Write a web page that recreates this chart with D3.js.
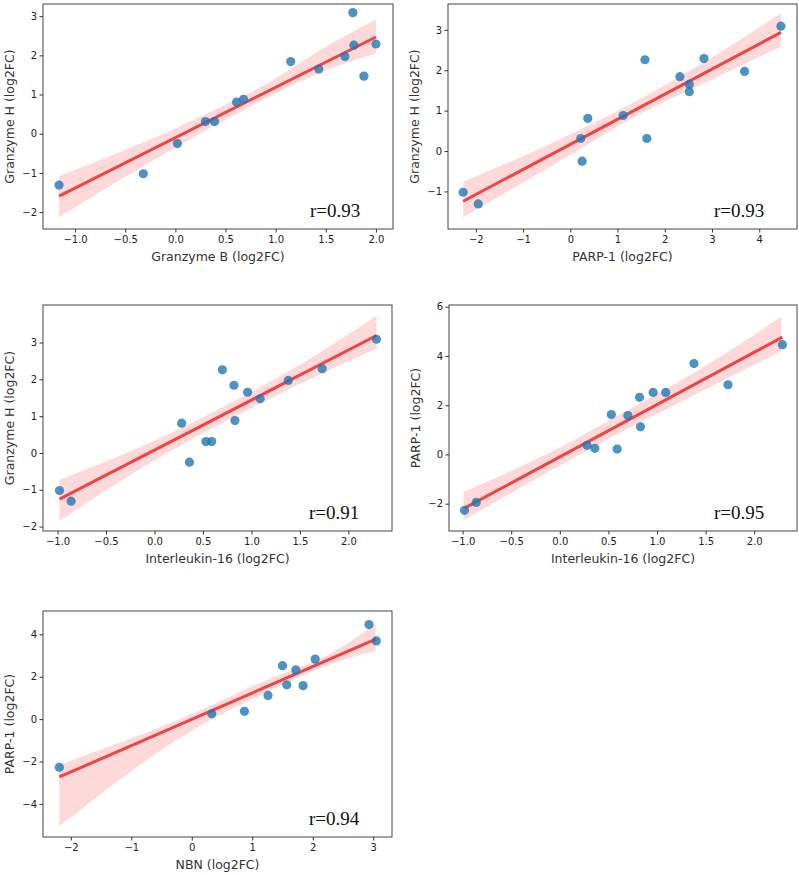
<!DOCTYPE html>
<html>
<head>
<meta charset="utf-8">
<script src="https://cdn.jsdelivr.net/npm/d3@7"></script>
<style>
  html, body { margin: 0; padding: 0; background: #fff; }
  svg { display: block; }
  .tick text { font-family: "DejaVu Sans", sans-serif; font-size: 10px; fill: #222; }
  .axlabel { font-family: "DejaVu Sans", sans-serif; font-size: 12.5px; fill: #333; }
  .rtext { font-family: "Liberation Serif", "Times New Roman", serif; font-size: 19px; fill: #111; }
</style>
</head>
<body>
<svg id="chart" width="799" height="875"></svg>
<script>
// ---- Data (log2FC per sample) ----
const granzymeB     = [-1.16, -0.32, 0.02, 0.30, 0.39, 0.61, 0.68, 1.15, 1.43, 1.69, 1.77, 1.78, 1.88, 2.00];
const granzymeH     = [-1.31, -1.02, -0.25, 0.31, 0.31, 0.81, 0.88, 1.84, 1.65, 1.97, 3.09, 2.26, 1.47, 2.29];
const parp1         = [-1.95, -2.27, 0.25, 0.22, 1.62, 0.37, 1.12, 2.32, 2.52, 3.69, 4.46, 1.58, 2.52, 2.83];
const interleukin16 = [-0.86, -0.98, 0.36, 0.59, 0.53, 0.28, 0.83, 0.82, 0.96, 1.38, 2.29, 0.70, 1.09, 1.73];
const nbn           = [null, -2.19, 0.33, null, 1.57, 0.87, 1.26, 1.72, 1.50, 3.05, 2.93, 1.84, null, 2.04];

// 95% confidence band edges [x, lower, upper]
const bandGzbGzh  = [[-1.16,-2.13,-1.08],[-0.3,-0.80,-0.20],[0.4,0.22,0.62],[0.9,0.90,1.26],[1.5,1.62,2.22],[2.0,2.05,2.92]];
const bandParpGzh = [[-2.27,-1.64,-0.76],[-0.5,-0.44,0.14],[1.4,0.87,1.24],[3.3,1.94,2.54],[4.46,2.59,3.41]];
const bandIlGzh   = [[-0.98,-1.84,-0.73],[0.0,-0.20,0.33],[0.7,0.82,1.24],[1.5,1.88,2.40],[2.29,2.84,3.73]];
const bandIlParp  = [[-0.99,-2.67,-1.52],[0.0,-0.45,0.28],[0.7,1.05,1.80],[1.5,2.65,3.60],[2.28,4.20,5.60]];
const bandNbnParp = [[-2.19,-5.05,-2.15],[0.3,-0.05,0.62],[1.0,0.95,1.55],[1.6,1.75,2.25],[2.3,2.60,3.10],[3.04,3.24,4.50]];

const rValues = ["r=0.93", "r=0.93", "r=0.91", "r=0.95", "r=0.94"];
const xLabels = ["Granzyme B (log2FC)", "PARP-1 (log2FC)", "Interleukin-16 (log2FC)", "Interleukin-16 (log2FC)", "NBN (log2FC)"];
const yLabels = ["Granzyme H (log2FC)", "Granzyme H (log2FC)", "Granzyme H (log2FC)", "PARP-1 (log2FC)", "PARP-1 (log2FC)"];
const xTickValues = [[-1.0,-0.5,0.0,0.5,1.0,1.5,2.0], [-2,-1,0,1,2,3,4], [-1.0,-0.5,0.0,0.5,1.0,1.5,2.0], [-1.0,-0.5,0.0,0.5,1.0,1.5,2.0], [-2,-1,0,1,2,3]];
const yTickValues = [[-2,-1,0,1,2,3], [-1,0,1,2,3], [-2,-1,0,1,2,3], [-2,0,2,4,6], [-4,-2,0,2,4]];

// ---- Layout (panel frames and axis limits) ----
const panels = [
  { xs: granzymeB,     ys: granzymeH, band: bandGzbGzh,  box: [43, 4, 393, 229],   xd: [-1.32, 2.17], yd: [-2.43, 3.31], xf: ".1f", yf: "d" },
  { xs: parp1,         ys: granzymeH, band: bandParpGzh, box: [448, 4, 797, 229],  xd: [-2.59, 4.80], yd: [-1.93, 3.64], xf: "d",   yf: "d" },
  { xs: interleukin16, ys: granzymeH, band: bandIlGzh,   box: [43, 305, 392, 531], xd: [-1.15, 2.45], yd: [-2.12, 4.02], xf: ".1f", yf: "d" },
  { xs: interleukin16, ys: parp1,     band: bandIlParp,  box: [449, 305, 797, 531],xd: [-1.14, 2.44], yd: [-3.11, 6.07], xf: ".1f", yf: "d" },
  { xs: nbn,           ys: parp1,     band: bandNbnParp, box: [43, 611, 392, 837], xd: [-2.46, 3.31], yd: [-5.56, 5.10], xf: "d",   yf: "d" }
];

const svg = d3.select("#chart");

panels.forEach((p, i) => {
  const [x0, y0, x1, y1] = p.box;
  const x = d3.scaleLinear().domain(p.xd).range([x0, x1]);
  const y = d3.scaleLinear().domain(p.yd).range([y1, y0]);
  const g = svg.append("g");

  const pts = p.xs.map((v, k) => [v, p.ys[k]]).filter(d => d[0] !== null && d[1] !== null);

  // least-squares regression line
  const mx = d3.mean(pts, d => d[0]), my = d3.mean(pts, d => d[1]);
  const sxy = d3.sum(pts, d => (d[0] - mx) * (d[1] - my));
  const sxx = d3.sum(pts, d => (d[0] - mx) ** 2);
  const slope = sxy / sxx, icpt = my - slope * mx;
  const xmin = d3.min(pts, d => d[0]), xmax = d3.max(pts, d => d[0]);

  // confidence band
  g.append("path")
    .datum(p.band)
    .attr("d", d3.area().x(d => x(d[0])).y0(d => y(d[1])).y1(d => y(d[2])).curve(d3.curveMonotoneX))
    .attr("fill", "rgb(255,0,0)").attr("fill-opacity", 0.15);

  // regression line
  g.append("line")
    .attr("x1", x(xmin)).attr("y1", y(icpt + slope * xmin))
    .attr("x2", x(xmax)).attr("y2", y(icpt + slope * xmax))
    .attr("stroke", "rgb(240,40,40)").attr("stroke-opacity", 0.85)
    .attr("stroke-width", 3);

  // points
  g.selectAll("circle").data(pts).join("circle")
    .attr("cx", d => x(d[0])).attr("cy", d => y(d[1])).attr("r", 4.6)
    .attr("fill", "#1f77b4").attr("fill-opacity", 0.8);

  // axes
  const ax = g.append("g").attr("transform", `translate(0,${y1})`)
    .call(d3.axisBottom(x).tickValues(xTickValues[i]).tickFormat(d3.format(p.xf)).tickSize(3.5).tickPadding(3));
  const ay = g.append("g").attr("transform", `translate(${x0},0)`)
    .call(d3.axisLeft(y).tickValues(yTickValues[i]).tickFormat(d3.format(p.yf)).tickSize(3.5).tickPadding(2.5));
  [ax, ay].forEach(a => {
    a.select(".domain").remove();
    a.selectAll(".tick line").attr("stroke", "#333");
  });

  // frame
  g.append("rect").attr("x", x0).attr("y", y0).attr("width", x1 - x0).attr("height", y1 - y0)
    .attr("fill", "none").attr("stroke", "#444").attr("stroke-width", 1);

  // labels
  g.append("text").attr("class", "axlabel")
    .attr("x", (x0 + x1) / 2).attr("y", y1 + 32).attr("text-anchor", "middle")
    .text(xLabels[i]);
  g.append("text").attr("class", "axlabel")
    .attr("transform", `translate(${x0 - 29},${(y0 + y1) / 2}) rotate(-90)`)
    .attr("text-anchor", "middle")
    .text(yLabels[i]);

  g.append("text").attr("class", "rtext")
    .attr("x", x1 - 83).attr("y", y1 - 12)
    .text(rValues[i]);
});
</script>
</body>
</html>
